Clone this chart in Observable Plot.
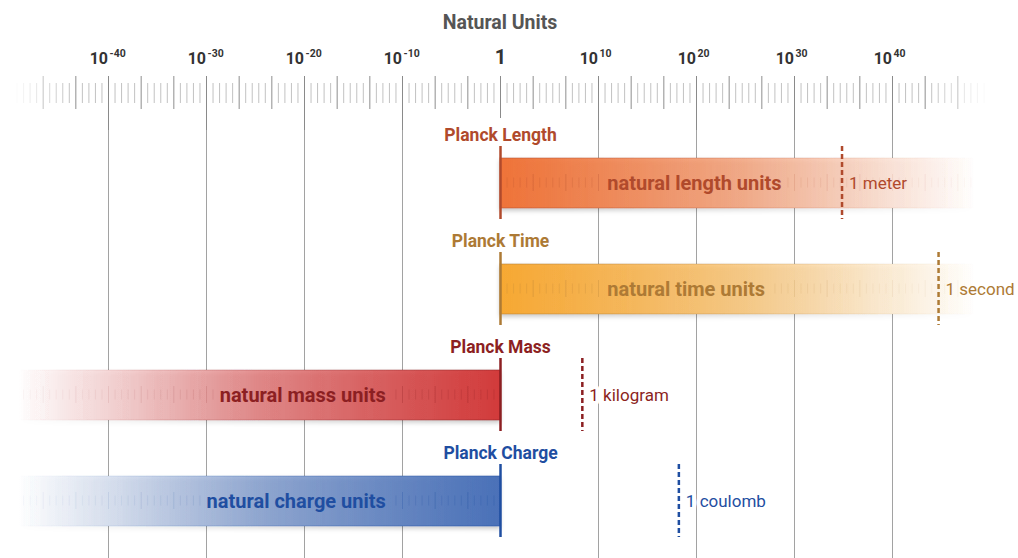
<!DOCTYPE html>
<html><head><meta charset="utf-8">
<script src="https://cdn.jsdelivr.net/npm/d3@7"></script>
<script src="https://cdn.jsdelivr.net/npm/@observablehq/plot@0.6"></script>
<style>
html,body{margin:0;padding:0;background:#fff;}
body{width:1018px;height:558px;overflow:hidden;font-family:Roboto,sans-serif;}
#title{width:1000px;height:40px;text-align:center;font:700 19.5px Roboto,sans-serif;line-height:46px;color:#555;}
svg{display:block;}
</style></head><body>
<div id="title">Natural Units</div>
<div id="axis"></div>
<div id="rows"></div>
<script>
// ---- data ----
const quantities = ["Length", "Time", "Mass", "Charge"];
const planckLabels = ["Planck Length", "Planck Time", "Planck Mass", "Planck Charge"];
const barLabels = ["natural length units", "natural time units", "natural mass units", "natural charge units"];
const unitLabels = ["1 meter", "1 second", "1 kilogram", "1 coulomb"];
const planckExponents = [0, 0, 0, 0];            // Planck unit = 10^0 natural units
const unitExponents = [34.85, 44.7, 8.35, 18.2];   // SI unit in natural units (log10, as drawn)
const barFarEnds = [48.5, 48.5, -49.2, -49.2];      // where each faded bar ends (log10)
const barLabelAnchors = [10.9, 10.9, -11.7, -11.7]; // label anchor (log10)
const tickExponents = [-40, -30, -20, -10, 0, 10, 20, 30, 40];
const fillColors = ["#ef7338", "#f7a833", "#d23b3b", "#4a71b8"];
const textColors = ["#b04a2c", "#ad7a35", "#8c1f22", "#1f4ea1"];

// ---- layout helpers ----
const X = {domain: [-50, 50], range: [10, 990]};
const ppu = (X.range[1] - X.range[0]) / (X.domain[1] - X.domain[0]);
const ruler = d3.range(-74, 75).map(k => ({k, e: k * 2 / 3, kind: k % 15 === 0 ? "major" : k % 5 === 0 ? "medium" : "minor"}));
const edgeFade = e => Math.max(0.08, Math.min(1, (49.8 - Math.abs(e)) / 6));
const stops = [[0, 1], [0.5, 0.55], [0.8, 0.2], [1, 0]];
function profile(t) {
  t = Math.max(0, Math.min(1, t));
  for (let j = 1; j < stops.length; j++) {
    const [t0, o0] = stops[j - 1], [t1, o1] = stops[j];
    if (t <= t1) return o0 + (o1 - o0) * (t - t0) / (t1 - t0);
  }
  return 0;
}
const ctx = document.createElement("canvas").getContext("2d");
ctx.font = "700 20px Roboto";

const rows = quantities.map((q, i) => ({
  q, i,
  heading: planckLabels[i], label: barLabels[i], unitLabel: unitLabels[i],
  planck: planckExponents[i], unit: unitExponents[i], far: barFarEnds[i], anchor: barLabelAnchors[i],
  right: barFarEnds[i] > planckExponents[i],
  outside: (unitExponents[i] - planckExponents[i]) * (barFarEnds[i] - planckExponents[i]) < 0
}));

// ---- axis / ruler plot ----
const axisPlot = Plot.plot({
  width: 1018, height: 90, margin: 0,
  style: "font-family: Roboto, sans-serif; overflow: visible;",
  x: {...X, axis: null},
  opacity: {domain: [0, 1], range: [0, 1]},
  marks: [
    Plot.tickX(ruler.filter(d => d.kind === "minor"), {x: "e", stroke: "#c2c2c2", strokeOpacity: d => edgeFade(d.e), insetTop: 43, insetBottom: 27}),
    Plot.tickX(ruler.filter(d => d.kind === "medium"), {x: "e", stroke: "#8e8e8e", strokeOpacity: d => edgeFade(d.e), insetTop: 36, insetBottom: 21}),
    Plot.tickX(ruler.filter(d => d.kind === "major" && d.e !== 0), {x: "e", stroke: "#8a8a8a", insetTop: 36, insetBottom: 0}),
    Plot.tickX(ruler.filter(d => d.kind === "major" && d.e === 0), {x: "e", stroke: "#8a8a8a", insetTop: 36, insetBottom: 12}),
    Plot.text(tickExponents.filter(e => e !== 0), {x: d => d, text: () => "10", textAnchor: "end", frameAnchor: "top", lineAnchor: "bottom", dy: 23, dx: -0.5, fontSize: 16, fontWeight: 700, fill: "#333", fontFamily: "Roboto"}),
    Plot.text(tickExponents.filter(e => e !== 0), {x: d => d, text: d => String(d), textAnchor: "start", frameAnchor: "top", lineAnchor: "bottom", dy: 16.5, dx: 1, fontSize: 10.5, fontWeight: 700, fill: "#333", fontFamily: "Roboto"}),
    Plot.text(tickExponents.filter(e => e === 0), {x: d => d, text: () => "1", textAnchor: "middle", frameAnchor: "top", lineAnchor: "bottom", dy: 23, fontSize: 20, fontWeight: 700, fill: "#333", fontFamily: "Roboto"})
  ]
});
document.getElementById("axis").append(axisPlot);

// ---- rows plot ----
function innerTicks(r) {
  const lo = Math.min(r.planck, r.far), hi = Math.max(r.planck, r.far);
  const w = ctx.measureText(r.label).width / ppu, pad = 6 / ppu;
  const ex0 = r.right ? r.anchor - pad : r.anchor - w - pad;
  const ex1 = r.right ? r.anchor + w + pad : r.anchor + pad;
  return ruler
    .filter(d => d.e > lo && d.e < hi && d.e !== r.planck && !(d.e > ex0 && d.e < ex1))
    .map(d => ({...d, q: r.q, op: profile((d.e - r.planck) / (r.far - r.planck))}));
}

const bandInset = {insetTop: 28, insetBottom: 28};
const marks = [
  Plot.ruleX(tickExponents.filter(e => e !== 0), {x: d => d, stroke: "#a2a2a2"}),
  Plot.barX(rows, {x1: "planck", x2: "far", y: "q", fill: "white", ...bandInset})
];
rows.forEach(r => {
  const c = textColors[r.i];
  const t = innerTicks(r);
  marks.push(
    Plot.barX([r], {x1: "planck", x2: "far", y: "q", fill: `url(#fill${r.i})`, stroke: `url(#edge${r.i})`, strokeWidth: 1, ...bandInset, ariaDescription: "gbar"}),
    Plot.tickX(t.filter(d => d.kind === "minor"), {x: "e", y: "q", stroke: c, strokeOpacity: d => 0.18 * d.op + 0.03, insetTop: 47.5, insetBottom: 48.5}),
    Plot.tickX(t.filter(d => d.kind !== "minor"), {x: "e", y: "q", stroke: c, strokeOpacity: d => 0.28 * d.op + 0.04, insetTop: 44, insetBottom: 45}),
    Plot.tickX([r], {x: "planck", y: "q", stroke: c, strokeWidth: 2.5, insetTop: 16, insetBottom: 17}),
    Plot.tickX([r], {x: "unit", y: "q", stroke: c, strokeWidth: 2.5, strokeDasharray: "5,3", insetTop: 16, insetBottom: 17}),
    Plot.text([r], {x: "planck", y: "q", text: "heading", dy: -48, fill: c, fontSize: 17.5, fontWeight: 700, fontFamily: "Roboto"}),
    Plot.text([r], {x: "anchor", y: "q", text: "label", textAnchor: r.right ? "start" : "end", fill: c, fontSize: 20, fontWeight: 700, fontFamily: "Roboto"}),
    Plot.text([r], {x: "unit", y: "q", text: "unitLabel", textAnchor: "start", dx: 7, fill: c, fontSize: 17, fontFamily: "Roboto",
      ...(r.outside ? {stroke: "white", strokeWidth: 8} : {})})
  );
});

const rowPlot = Plot.plot({
  width: 1018, height: 428, margin: 0,
  style: "font-family: Roboto, sans-serif; overflow: visible;",
  x: {...X, axis: null},
  y: {domain: quantities, range: [0, 424], padding: 0, axis: null},
  opacity: {domain: [0, 1], range: [0, 1]},
  marks
});

const defs = d3.select(rowPlot).insert("defs", ":first-child");
rows.forEach(r => {
  const seq = r.right ? stops : stops.slice().reverse();
  const fill = defs.append("linearGradient").attr("id", `fill${r.i}`).attr("x1", 0).attr("x2", 1).attr("y1", 0).attr("y2", 0);
  const edge = defs.append("linearGradient").attr("id", `edge${r.i}`).attr("x1", 0).attr("x2", 1).attr("y1", 0).attr("y2", 0);
  seq.forEach(([t, o]) => {
    const off = r.right ? t : 1 - t;
    fill.append("stop").attr("offset", off).attr("stop-color", fillColors[r.i]).attr("stop-opacity", o);
    edge.append("stop").attr("offset", off).attr("stop-color", textColors[r.i]).attr("stop-opacity", o * 0.55);
  });
});
const f = defs.append("filter").attr("id", "shadow").attr("x", "-5%").attr("y", "-40%").attr("width", "110%").attr("height", "200%");
f.append("feDropShadow").attr("dx", 0).attr("dy", 2.5).attr("stdDeviation", 2).attr("flood-color", "#000").attr("flood-opacity", 0.22);
d3.select(rowPlot).selectAll('g[aria-description="gbar"]').attr("filter", "url(#shadow)");

document.getElementById("rows").append(rowPlot);
</script>
</body></html>
